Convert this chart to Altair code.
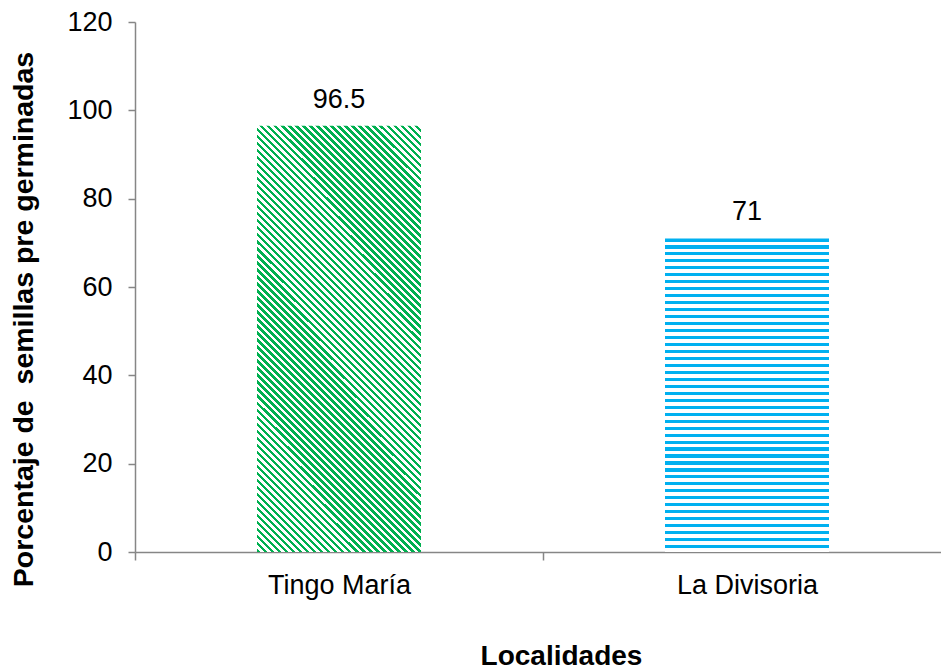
import altair as alt
import pandas as pd

# ---- data ----
categories = ["Tingo María", "La Divisoria"]
values = [96.5, 71.0]
y_ticks = [0, 20, 40, 60, 80, 100, 120]

df = pd.DataFrame({"Localidad": categories, "Porcentaje": values})

# ---- styles ----
GREEN = "#00B050"
BLUE = "#00B0F0"
WHITE = "#FFFFFF"
FONT = "Liberation Sans"
GRAY = "#868686"


def stripe_stops(color, n, frac):
    stops = []
    for i in range(n):
        a = round(i / n, 6)
        b = round((i + frac) / n, 6)
        c = round((i + 1) / n, 6)
        stops += [
            {"offset": a, "color": color},
            {"offset": b, "color": color},
            {"offset": b, "color": WHITE},
            {"offset": c, "color": WHITE},
        ]
    return stops


def diagonal_gradient(color, w, h, period, frac):
    # "\" stripes inside a w x h box (objectBoundingBox units)
    gx = w / h
    k = (gx + 1) / (gx * gx + 1)
    n = int(round((w + h) / period))
    return alt.LinearGradient(
        gradient="linear",
        x1=0, y1=1, x2=round(k * gx, 5), y2=round(1 - k, 5),
        stops=stripe_stops(color, n, frac),
    )


def horizontal_gradient(color, h, period, frac):
    n = int(round(h / period))
    return alt.LinearGradient(
        gradient="linear",
        x1=0, y1=0, x2=0, y2=1,
        stops=stripe_stops(color, n, frac),
    )


green_fill = diagonal_gradient(GREEN, 164, 427, 7.0, 0.5)
blue_fill = horizontal_gradient(BLUE, 314, 7.0, 0.45)

x_enc = alt.X(
    "Localidad:N",
    sort=categories,
    scale=alt.Scale(range=[0, 816], paddingInner=0, paddingOuter=0),
    axis=alt.Axis(
        labelAngle=0, tickBand="extent", grid=False,
        domainColor=GRAY, domainWidth=1.5, tickColor=GRAY, tickWidth=1.5, tickSize=8,
        labelFont=FONT, labelFontSize=27, labelColor="black", labelPadding=12,
        title="Localidades", titleFont=FONT, titleFontSize=28, titleFontWeight="bold",
        titleColor="black", titleX=426, titleY=112, titleAlign="center",
        titleBaseline="alphabetic",
    ),
)
y_enc = alt.Y(
    "Porcentaje:Q",
    scale=alt.Scale(domain=[0, 120], nice=False),
    axis=alt.Axis(
        values=y_ticks, grid=False,
        domainColor=GRAY, domainWidth=1.5, tickColor=GRAY, tickWidth=1.5, tickSize=7,
        labelFont=FONT, labelFontSize=27, labelColor="black", labelPadding=16,
        title="Porcentaje de \u00a0semillas pre germinadas",
        titleFont=FONT, titleFontSize=28.5, titleFontWeight="bold", titleColor="black",
        titleX=-112, titleY=297, titleAlign="center", titleBaseline="middle",
        titleAngle=270,
    ),
)

base = alt.Chart(df).encode(x=x_enc, y=y_enc)

bar1 = base.mark_bar(width=164, fill=green_fill).transform_filter(
    alt.datum.Localidad == categories[0]
)
bar2 = base.mark_bar(width=164, fill=blue_fill).transform_filter(
    alt.datum.Localidad == categories[1]
)
labels = base.mark_text(
    dy=-18, baseline="alphabetic", align="center", font=FONT, fontSize=27, color="black"
).encode(text=alt.Text("Porcentaje:Q"))

chart = (
    alt.layer(bar1, bar2, labels)
    .properties(
        width=806,
        height=530,
        autosize=alt.AutoSizeParams(type="none"),
        padding={"left": 135, "top": 22, "right": 0, "bottom": 117},
        background="white",
    )
    .configure_view(strokeWidth=0)
)

chart.save("out.html", embed_options={"renderer": "svg", "actions": False})
